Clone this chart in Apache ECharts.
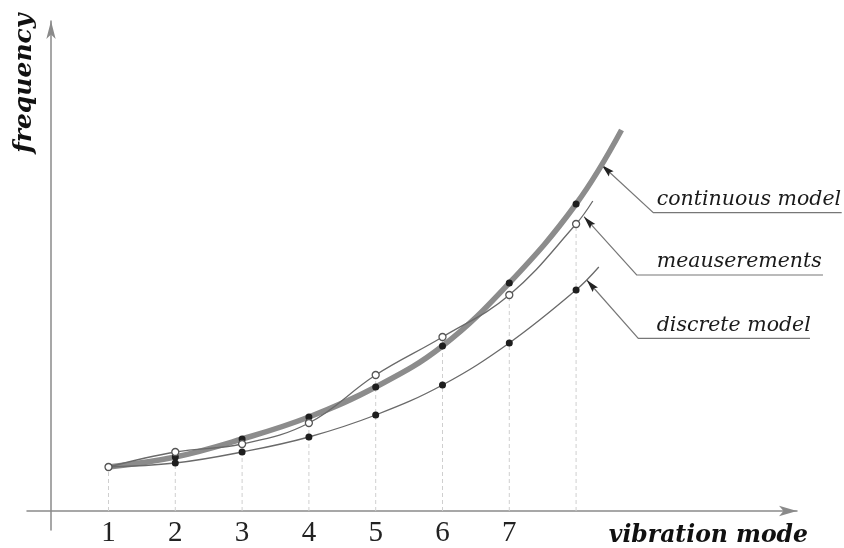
<!DOCTYPE html>
<html><head><meta charset="utf-8">
<script src="https://cdn.jsdelivr.net/npm/echarts@6/dist/echarts.min.js"></script>
<style>html,body{margin:0;padding:0;background:#fff}#c{width:844px;height:548px}</style>
</head><body><div id="c"></div>
<script>
// ---- data (frequency in arbitrary units) ----
const modes = [1, 2, 3, 4, 5, 6, 7, 8];
const tickLabels = [1, 2, 3, 4, 5, 6, 7];
const continuous = [44, 54, 72, 94, 124, 165, 228, 307];
const measurements = [44, 59, 67, 88, 136, 174, 216, 287];
const discrete = [44, 48, 59, 74, 96, 126, 168, 221];
// where each drawn curve stops, past the last mode
const continuousEnd = [8.68, 381];
const measurementsEnd = [8.25, 310];
const discreteEnd = [8.34, 244];
// annotation labels and their leader lines (data coordinates)
const annLabels = ['continuous model', 'meauserements', 'discrete model'];
const annTips = [[8.383, 346], [8.118, 294.3], [8.159, 231]];
const annElbows = [[9.156, 298.3], [8.907, 236], [8.931, 172.7]];
const annEnds = [11.976, 11.696, 11.501];
const annTextX = 9.207;

const chart = echarts.init(document.getElementById('c'), null, {renderer: 'canvas'});

function pts(ys, end) {
  const d = modes.map((m, i) => [m, ys[i]]);
  d.push({value: end, symbol: 'none'});
  return d;
}

const option = {
  animation: false,
  backgroundColor: '#fff',
  grid: {left: 27, right: 47, top: 21, bottom: 18, containLabel: false, outerBoundsMode: 'none'},
  xAxis: {
    type: 'value', min: -0.22, max: 11.307,
    axisLine: {show: true, onZero: true, symbol: ['none', 'arrow'], symbolSize: [8, 18],
      lineStyle: {color: '#8a8a8a', width: 1.5}},
    axisTick: {show: false},
    splitLine: {show: false},
    axisLabel: {customValues: tickLabels, formatter: v => String(v), margin: -11,
      fontFamily: 'Liberation Serif', fontSize: 29, color: '#222'},
    name: 'vibration mode', nameLocation: 'end', nameGap: 11,
    nameTextStyle: {fontFamily: 'DejaVu Serif', fontStyle: 'italic', fontWeight: 'bold',
      fontSize: 23.5, color: '#111', align: 'right', verticalAlign: 'top', padding: [13, 0, 0, 0]}
  },
  yAxis: {
    type: 'value', min: -19, max: 490, offset: -24,
    axisLine: {show: true, onZero: false, symbol: ['none', 'arrow'], symbolSize: [7, 18],
      lineStyle: {color: '#8a8a8a', width: 1.5}},
    axisTick: {show: false}, splitLine: {show: false}, axisLabel: {show: false}
  },
  series: [
    {
      type: 'custom', silent: true, z: 1,
      data: modes.map((m, i) => [m, measurements[i]]),
      renderItem: (params, api) => {
        const p0 = api.coord([api.value(0), 0]);
        const p1 = api.coord([api.value(0), api.value(1)]);
        return {type: 'line', shape: {x1: p0[0], y1: p0[1], x2: p1[0], y2: p1[1]},
          style: {stroke: '#cfcfcf', lineWidth: 1, lineDash: [4, 3]}};
      }
    },
    {
      name: 'continuous model', type: 'line', smooth: 0.4, z: 2, silent: true,
      data: pts(continuous, continuousEnd),
      lineStyle: {color: '#8c8c8c', width: 5.5},
      symbol: 'circle', symbolSize: 7, itemStyle: {color: '#1e1e1e'}
    },
    {
      name: 'discrete model', type: 'line', smooth: 0.4, z: 3, silent: true,
      data: pts(discrete, discreteEnd),
      lineStyle: {color: '#6a6a6a', width: 1.3},
      symbol: 'circle', symbolSize: 7, itemStyle: {color: '#1e1e1e'}
    },
    {
      name: 'meauserements', type: 'line', smooth: 0.4, z: 4, silent: true,
      data: pts(measurements, measurementsEnd),
      lineStyle: {color: '#6a6a6a', width: 1.3},
      symbol: 'circle', symbolSize: 7,
      itemStyle: {color: '#fff', borderColor: '#555', borderWidth: 1.3}
    }
  ]
};
chart.setOption(option);

function annotations() {
  const els = [];
  const cv = p => chart.convertToPixel({gridIndex: 0}, p);
  annLabels.forEach((lab, i) => {
    const tip = cv(annTips[i]);
    const elbow = cv(annElbows[i]);
    const endX = cv([annEnds[i], annElbows[i][1]])[0];
    const tx = cv([annTextX, annElbows[i][1]])[0];
    els.push({type: 'polyline', silent: true,
      shape: {points: [tip, elbow, [endX, elbow[1]]]},
      style: {stroke: '#777', lineWidth: 1.2, fill: null}});
    const dx = tip[0] - elbow[0], dy = tip[1] - elbow[1];
    const L = Math.hypot(dx, dy), ux = dx / L, uy = dy / L;
    const len = 13, w = 3.5;
    const bx = tip[0] - ux * len, by = tip[1] - uy * len;
    els.push({type: 'polygon', silent: true,
      shape: {points: [tip, [bx - uy * w, by + ux * w], [bx + ux * 2, by + uy * 2], [bx + uy * w, by - ux * w]]},
      style: {fill: '#222'}});
    els.push({type: 'text', silent: true, x: tx, y: elbow[1] - 3,
      style: {text: lab, font: 'italic 20.5px "DejaVu Serif"', fill: '#1a1a1a',
        textAlign: 'left', textVerticalAlign: 'bottom', align: 'left', verticalAlign: 'bottom'}});
  });
  els.push({type: 'text', silent: true, x: 24, y: 153, rotation: Math.PI / 2,
    style: {text: 'frequency', font: 'italic bold 25px "DejaVu Serif"', fill: '#111',
      textAlign: 'left', textVerticalAlign: 'middle', align: 'left', verticalAlign: 'middle'}});
  return els;
}
chart.setOption({graphic: {elements: annotations()}});
</script>
</body></html>
